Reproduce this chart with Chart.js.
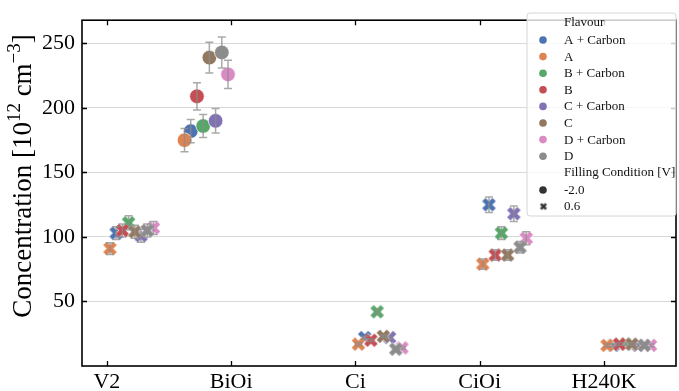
<!DOCTYPE html>
<html>
<head>
<meta charset="utf-8">
<script src="https://cdn.jsdelivr.net/npm/chart.js@4.4.1/dist/chart.umd.min.js"></script>
<style>
  html, body { margin: 0; padding: 0; background: #fff; overflow: hidden; }
</style>
</head>
<body>
<canvas id="c" width="684" height="391"></canvas>
<script>
// categories and the filling condition used for each of them
const categories = ['V2', 'BiOi', 'Ci', 'CiOi', 'H240K'];
const fillingPerCategory = [0.6, -2.0, 0.6, 0.6, 0.6];
const fillingLevels = ['-2.0', '0.6'];

const flavours = ['A + Carbon', 'A', 'B + Carbon', 'B', 'C + Carbon', 'C', 'D + Carbon', 'D'];
const dodgeSlot = [1, 0, 3, 2, 5, 4, 7, 6];   // left-to-right order inside a group
const colors = ['#4c72b0', '#dd8452', '#55a868', '#c44e52', '#8172b3', '#937860', '#da8bc3', '#8c8c8c'];

// concentration per flavour, one value per category (10^12 cm^-3)
const concACarbon = [103, 182, 22, 125, 16];
const concA       = [91, 175, 17, 79, 16];
const concBCarbon = [111, 186, 42, 103, 17];
const concB       = [105, 209, 20, 86, 17];
const concCCarbon = [101, 190, 22, 118, 16];
const concC       = [104, 239, 23, 86, 17];
const concDCarbon = [107, 226, 14, 99, 16];
const concD       = [105, 243, 13, 92, 16];

// error bar half-widths
const errACarbon = [5, 9, 1, 6, 1];
const errA       = [4.5, 9, 1, 4, 1];
const errBCarbon = [5.5, 9, 2, 5, 1];
const errB       = [5, 10.5, 1, 4, 1];
const errCCarbon = [5, 9.5, 1, 6, 1];
const errC       = [5, 12, 1, 4, 1];
const errDCarbon = [5, 11, 1, 5, 1];
const errD       = [5, 12, 1, 4.5, 1];

const yTicks = [50, 100, 150, 200, 250];

const concSeries = [concACarbon, concA, concBCarbon, concB, concCCarbon, concC, concDCarbon, concD];
const errSeries = [errACarbon, errA, errBCarbon, errB, errCCarbon, errC, errDCarbon, errD];

const SERIF = '"Liberation Serif", "DejaVu Serif", serif';

// thick "X" marker like matplotlib's filled X
function makeX(color, half, width, edge) {
  const size = Math.ceil(2 * half + width + 4);
  const cv = document.createElement('canvas');
  cv.width = size; cv.height = size;
  const c = cv.getContext('2d');
  c.translate(size / 2, size / 2);
  const path = () => {
    c.beginPath();
    c.moveTo(-half, -half); c.lineTo(half, half);
    c.moveTo(-half, half); c.lineTo(half, -half);
  };
  c.lineCap = 'butt';
  if (edge) {
    c.strokeStyle = 'rgba(255,255,255,0.9)';
    c.lineWidth = width + 1.2;
    path(); c.stroke();
  }
  c.strokeStyle = color;
  c.lineWidth = width;
  path(); c.stroke();
  return cv;
}

const xMarkers = colors.map(col => makeX(col, 5.1, 4.8, true));

function dodgeX(catIdx, flavIdx) {
  const left = fillingPerCategory[catIdx] === -2.0 ? -0.4 : 0;
  return catIdx + left + 0.025 + dodgeSlot[flavIdx] * 0.05;
}

const datasets = flavours.map((name, i) => ({
  label: name,
  data: concSeries[i].map((v, k) => ({ x: dodgeX(k, i), y: v })),
  order: -i,
  backgroundColor: colors[i],
  borderColor: '#ffffff',
  borderWidth: 0.7,
  pointRadius: 7.3,
  pointStyle: ctx => fillingPerCategory[ctx.dataIndex] === -2.0 ? 'circle' : xMarkers[i],
}));

const errorBars = {
  id: 'errorBars',
  afterDatasetsDraw(chart) {
    const { ctx, scales: { x, y } } = chart;
    ctx.save();
    ctx.strokeStyle = 'rgba(140,140,140,0.75)';
    ctx.lineWidth = 1.5;
    concSeries.forEach((vals, i) => {
      vals.forEach((v, k) => {
        const px = x.getPixelForValue(dodgeX(k, i));
        const top = y.getPixelForValue(v + errSeries[i][k]);
        const bot = y.getPixelForValue(v - errSeries[i][k]);
        ctx.beginPath();
        ctx.moveTo(px, top); ctx.lineTo(px, bot);
        ctx.moveTo(px - 4, top); ctx.lineTo(px + 4, top);
        ctx.moveTo(px - 4, bot); ctx.lineTo(px + 4, bot);
        ctx.stroke();
      });
    });
    ctx.restore();
  }
};

const decor = {
  id: 'decor',
  afterDraw(chart) {
    const { ctx, chartArea: a, scales: { x, y } } = chart;
    ctx.save();
    // frame
    ctx.strokeStyle = '#000';
    ctx.lineWidth = 1.6;
    ctx.strokeRect(a.left, a.top, a.right - a.left, a.bottom - a.top);
    // inward ticks on every side
    ctx.lineWidth = 1.3;
    ctx.beginPath();
    categories.forEach((_, k) => {
      const px = Math.round(x.getPixelForValue(k)) + 0.5;
      ctx.moveTo(px, a.bottom); ctx.lineTo(px, a.bottom - 5);
      ctx.moveTo(px, a.top); ctx.lineTo(px, a.top + 5);
    });
    yTicks.forEach(v => {
      const py = Math.round(y.getPixelForValue(v)) + 0.5;
      ctx.moveTo(a.left, py); ctx.lineTo(a.left + 5, py);
      ctx.moveTo(a.right, py); ctx.lineTo(a.right - 5, py);
    });
    ctx.stroke();

    // y axis label with superscripts
    const parts = [
      ['Concentration [10', false], ['12', true], [' cm', false], ['\u22123', true], [']', false]
    ];
    const measure = fs => parts.reduce((w, [t, sup]) => {
      ctx.font = `${sup ? fs * 0.7 : fs}px ${SERIF}`;
      return w + ctx.measureText(t).width;
    }, 0);
    let fs = 24;
    fs = Math.max(22, Math.min(27, fs * 297 / measure(fs)));
    const total = measure(fs);
    ctx.translate(31, 176);
    ctx.rotate(-Math.PI / 2);
    ctx.fillStyle = '#000';
    ctx.textBaseline = 'alphabetic';
    ctx.textAlign = 'left';
    let cx = -total / 2;
    parts.forEach(([t, sup]) => {
      ctx.font = `${sup ? fs * 0.7 : fs}px ${SERIF}`;
      ctx.fillText(t, cx, sup ? -fs * 0.42 : 0);
      cx += ctx.measureText(t).width;
    });
    ctx.setTransform(1, 0, 0, 1, 0, 0);

    // legend box
    const bx = 527, by = 13, bw = 149, bh = 203, r = 3;
    ctx.beginPath();
    ctx.roundRect(bx, by, bw, bh, r);
    ctx.fillStyle = 'rgba(255,255,255,0.8)';
    ctx.fill();
    ctx.strokeStyle = '#d6d6d6';
    ctx.lineWidth = 1;
    ctx.stroke();

    ctx.font = `13px ${SERIF}`;
    ctx.textBaseline = 'middle';
    ctx.fillStyle = '#111';
    const tx = 564, mx = 543;
    const step = 16.6;
    ctx.fillText('Flavour', tx, 23);
    flavours.forEach((name, i) => {
      const ry = 40 + i * step;
      ctx.beginPath();
      ctx.arc(mx, ry, 3.8, 0, Math.PI * 2);
      ctx.fillStyle = colors[i];
      ctx.fill();
      ctx.fillStyle = '#111';
      ctx.fillText(name, tx, ry + 0.5);
    });
    ctx.fillText('Filling Condition [V]', tx, 173);
    ctx.beginPath();
    ctx.arc(mx, 190, 3.8, 0, Math.PI * 2);
    ctx.fillStyle = '#333';
    ctx.fill();
    ctx.fillStyle = '#111';
    ctx.fillText(fillingLevels[0], tx, 190.5);
    ctx.drawImage(makeX('#333', 2.6, 2.6, false), mx - 5.5, 206 - 5.5);
    ctx.fillText(fillingLevels[1], tx, 206.5);
    ctx.restore();
  }
};

new Chart(document.getElementById('c'), {
  type: 'scatter',
  data: { datasets },
  options: {
    responsive: false,
    animation: false,
    events: [],
    layout: { padding: { top: 7, right: 3, left: 0, bottom: 0 } },
    plugins: { legend: { display: false }, tooltip: { enabled: false } },
    scales: {
      x: {
        type: 'linear',
        min: -0.2,
        max: 4.58,
        afterBuildTicks: s => { s.ticks = categories.map((_, k) => ({ value: k })); },
        afterFit: s => { s.height = 25; },
        grid: { display: false, drawTicks: false },
        border: { display: false },
        ticks: {
          padding: 3,
          color: '#000',
          font: { family: SERIF, size: 22 },
          callback: v => categories[v],
        },
      },
      y: {
        min: 0,
        max: 268,
        afterBuildTicks: s => { s.ticks = yTicks.map(v => ({ value: v })); },
        afterFit: s => { s.width = 82; },
        grid: { color: '#d8d8d8', lineWidth: 1, drawTicks: false },
        border: { display: false },
        ticks: {
          padding: 7,
          color: '#000',
          font: { family: SERIF, size: 22 },
        },
      },
    },
  },
  plugins: [errorBars, decor],
});
</script>
</body>
</html>
